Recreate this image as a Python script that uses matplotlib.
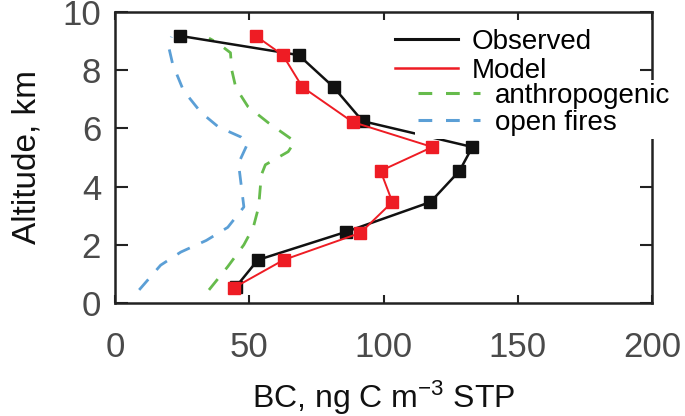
import matplotlib
matplotlib.use("Agg")
import matplotlib.pyplot as plt
from matplotlib.lines import Line2D

plt.rcParams['font.family'] = ['Liberation Sans', 'DejaVu Sans']
plt.rcParams['mathtext.fontset'] = 'custom'
plt.rcParams['mathtext.rm'] = 'Liberation Sans'
plt.rcParams['mathtext.it'] = 'Liberation Sans'

# Observed profile
obs_bc = [45, 53.2, 85.9, 117.5, 128.3, 133.1, 92.2, 81.4, 68.4, 24.2]
obs_alt = [0.55, 1.48, 2.44, 3.47, 4.54, 5.36, 6.25, 7.42, 8.52, 9.18]

# Model profile
mod_bc = [44.2, 62.8, 91.4, 103.3, 98.9, 118.2, 88.5, 69.8, 62.5, 52.4]
mod_alt = [0.52, 1.48, 2.41, 3.47, 4.54, 5.36, 6.22, 7.42, 8.52, 9.18]

# Anthropogenic contribution
anth_bc = [35, 42, 48, 51.5, 53.5, 54.5, 56, 64.5, 67, 57, 49.5, 45, 43.5, 43, 38, 35]
anth_alt = [0.45, 1.25, 2.0, 2.6, 3.3, 4.4, 4.75, 5.2, 5.55, 6.2, 6.75, 7.4, 8.0, 8.6, 8.95, 9.1]

# Open fires contribution
fire_bc = [9, 17, 24.5, 34, 42, 48, 47, 46, 49.5, 47, 38.5, 32, 25.5, 21.5, 20, 21]
fire_alt = [0.45, 1.3, 1.75, 2.15, 2.6, 3.3, 4.05, 4.8, 5.5, 5.7, 6.05, 6.55, 7.3, 8.2, 8.8, 9.15]

x_ticks = [0, 50, 100, 150, 200]
y_ticks = [0, 2, 4, 6, 8, 10]

W, H = 685, 416
fig = plt.figure(figsize=(W / 100, H / 100), dpi=100)
ax = fig.add_axes([115 / W, 1 - 303 / H, (652 - 115) / W, (303 - 12) / H])

c_obs = '#111111'
c_mod = '#ee1c24'
c_anth = '#66bb4c'
c_fire = '#5b9fd6'

ax.plot(anth_bc, anth_alt, color=c_anth, lw=2.0, dashes=(5, 4.5))
ax.plot(fire_bc, fire_alt, color=c_fire, lw=2.0, dashes=(5, 4.5))
ax.plot(obs_bc, obs_alt, color=c_obs, lw=1.8, marker='s', ms=9, mec=c_obs, mfc=c_obs)
ax.plot(mod_bc, mod_alt, color=c_mod, lw=1.4, marker='s', ms=9, mec=c_mod, mfc=c_mod)

ax.set_xlim(0, 200)
ax.set_ylim(0, 10)
ax.set_xticks(x_ticks)
ax.set_yticks(y_ticks)
ax.set_xticklabels([str(v) for v in x_ticks])
ax.set_yticklabels([str(v) for v in y_ticks])

for s in ax.spines.values():
    s.set_linewidth(1.8)
    s.set_color('#222222')

ax.tick_params(axis='x', direction='in', length=5.5, width=1.5, top=True,
               labelsize=25, pad=20, labelcolor='#4a4a4a', color='#222222')
ax.tick_params(axis='y', direction='in', length=9, width=1.5, right=True,
               labelsize=25, pad=10, labelcolor='#4a4a4a', color='#222222')

ax.set_xlabel(r'BC, ng C m$^{\mathregular{-3}}$ STP', fontsize=23, color='#111111', labelpad=11)
ax.set_ylabel('Altitude, km', fontsize=24, color='#111111', labelpad=14)

h1 = [Line2D([], [], color=c_obs, lw=2.2), Line2D([], [], color=c_mod, lw=1.8)]
leg1 = ax.legend(h1, ['Observed', 'Model'], loc='upper left',
                 bbox_to_anchor=(392 / W, 1 - 26 / H), bbox_transform=fig.transFigure,
                 frameon=False, fontsize=20, handlelength=2.27, handletextpad=0.5,
                 labelspacing=0.1, borderpad=0.1, borderaxespad=0)
ax.add_artist(leg1)

h2 = [Line2D([], [], color=c_anth, lw=2.2, dashes=(4.5, 4.5)),
      Line2D([], [], color=c_fire, lw=2.2, dashes=(4.5, 4.5))]
leg2 = ax.legend(h2, ['anthropogenic', 'open fires'], loc='upper left',
                 bbox_to_anchor=(415 / W, 1 - 80 / H), bbox_transform=fig.transFigure,
                 frameon=True, fancybox=False, facecolor='white', edgecolor='none',
                 framealpha=1, fontsize=20, handlelength=2.23, handletextpad=0.54,
                 labelspacing=0.05, borderpad=0.1, borderaxespad=0)

fig.savefig('out.png', dpi=100)
